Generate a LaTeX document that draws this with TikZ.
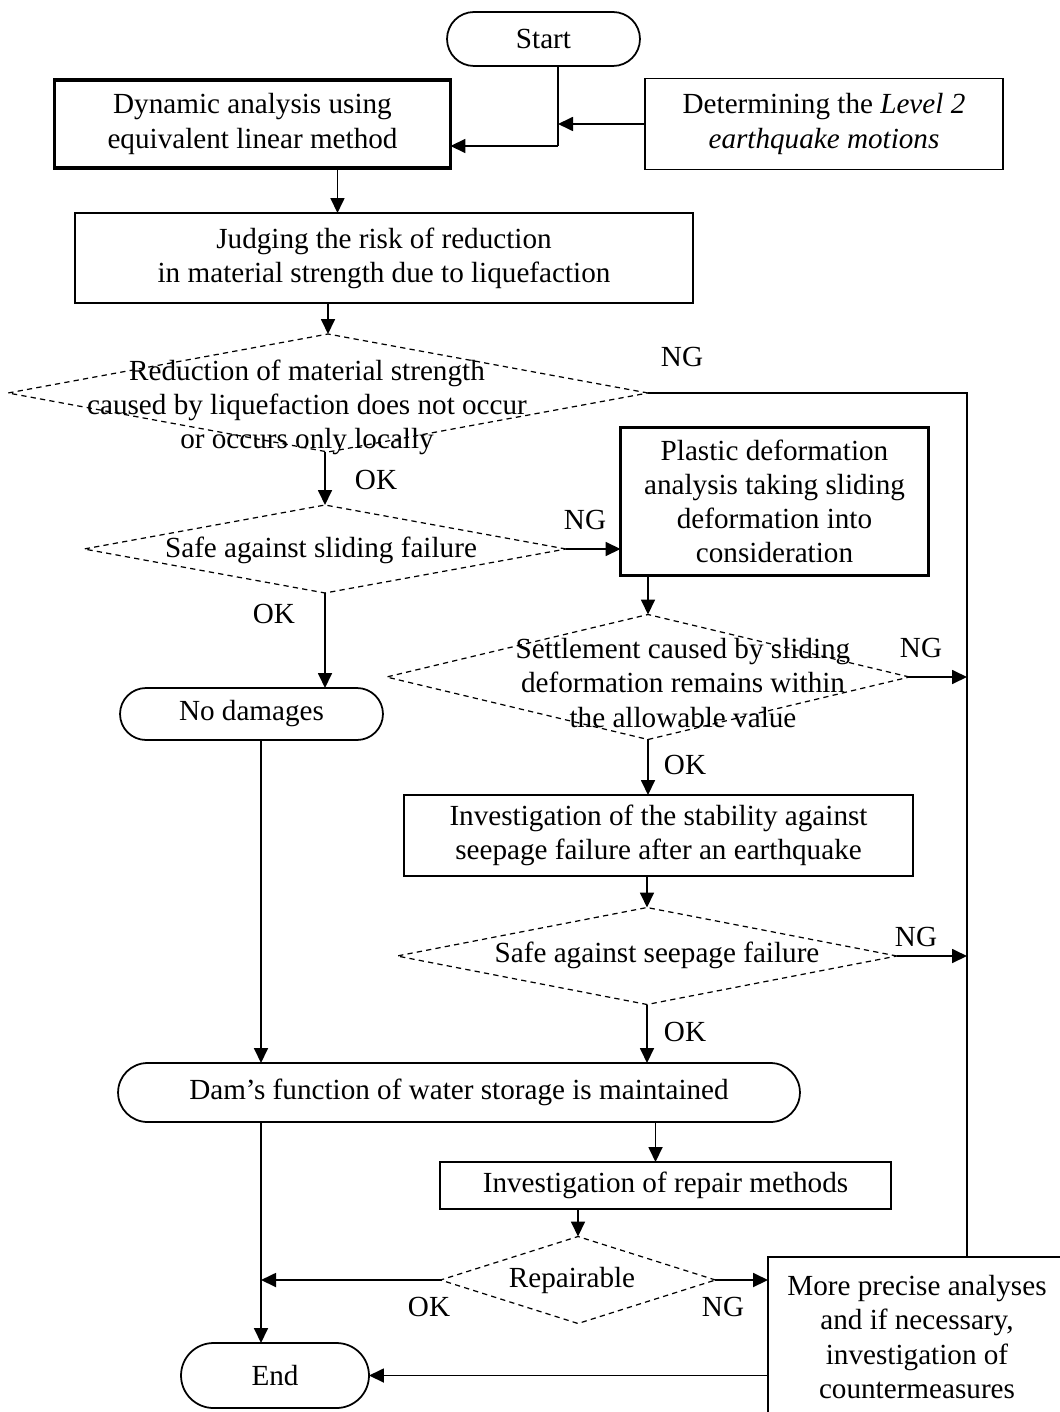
\documentclass[tikz,border=0pt]{standalone}
\usepackage{fontspec}
\setmainfont{Liberation Serif}
\usetikzlibrary{shapes.geometric,shapes.misc,arrows.meta}
\tikzset{
  box/.style={draw, line width=1pt, align=center, inner sep=0pt, outer sep=0pt},
  heavybox/.style={box, line width=2.2pt},
  pill/.style={box, rounded rectangle},
  decision/.style={diamond, draw, line width=0.7pt, dash pattern=on 3pt off 2.4pt, inner sep=0pt, outer sep=0pt},
  arr/.style={line width=1pt, -{Triangle[length=0.3cm,width=0.28cm]}},
  wire/.style={line width=1pt},
  tag/.style={inner sep=0pt, align=center}
}
\begin{document}
\begin{tikzpicture}[x=0.02cm, y=-0.02cm, font=\fontsize{16.6}{19.4}\selectfont]
\useasboundingbox (0,0) rectangle (1060,1412);
\clip (0,0) rectangle (1060,1412);
\node[pill, minimum width=3.86cm, minimum height=1.08cm] (start) at (543.5,39){Start};
\node[heavybox, minimum width=7.92cm, minimum height=1.76cm] (dyn) at (252.5,124){Dynamic analysis using\\equivalent linear method};
\node[box, minimum width=7.16cm, minimum height=1.82cm] (eqk) at (824,124){Determining the \textit{Level 2}\\\textit{earthquake motions}};
\node[box, minimum width=12.36cm, minimum height=1.8cm] (judge) at (384,258){Judging the risk of reduction\\in material strength due to liquefaction};
\node[decision, minimum width=12.8cm, minimum height=2.36cm] (dq1) at (328,393){};
\node[tag] (dq1txt) at (307,407){Reduction of material strength\\caused by liquefaction does not occur\\or occurs only locally};
\node[decision, minimum width=9.64cm, minimum height=1.76cm] (dq2) at (325,549){};
\node[tag] (dq2txt) at (321,550){Safe against sliding failure};
\node[heavybox, minimum width=6.16cm, minimum height=2.96cm] (plastic) at (774.5,501.5){Plastic deformation\\analysis taking sliding\\deformation into\\consideration};
\node[pill, minimum width=5.26cm, minimum height=1.04cm] (nodmg) at (251.5,714){No damages};
\node[decision, minimum width=10.46cm, minimum height=2.5cm] (dq3) at (648,677){};
\node[tag] (dq3txt) at (683,683){Settlement caused by sliding\\deformation remains within\\the allowable value};
\node[box, minimum width=10.18cm, minimum height=1.62cm] (seep) at (658.5,835.5){Investigation of the stability against\\seepage failure after an earthquake};
\node[decision, minimum width=10cm, minimum height=1.94cm] (dq4) at (647,956){};
\node[tag] (dq4txt) at (657,955){Safe against seepage failure};
\node[pill, minimum width=13.64cm, minimum height=1.18cm] (dam) at (459,1092.5){Dam’s function of water storage is maintained};
\node[box, minimum width=9.02cm, minimum height=0.94cm] (repair) at (665.5,1185.5){Investigation of repair methods};
\node[decision, minimum width=5.5cm, minimum height=1.74cm] (dq5) at (578,1280){};
\node[tag] (dq5txt) at (572,1280){Repairable};
\node[box, minimum width=5.96cm, minimum height=3.2cm] (more) at (917,1337){More precise analyses\\and if necessary,\\investigation of\\countermeasures};
\node[pill, minimum width=3.76cm, minimum height=1.3cm] (end) at (275,1375.5){End};
\coordinate (joinA) at (558,124);
\coordinate (joinB) at (558,146);
\coordinate (rail) at (967,393);
\coordinate (lrail) at (261,1280);
\draw[wire](start.south -| joinA) -- (joinB);
\draw[arr](joinB) -- (dyn.east |- joinB);
\draw[arr](eqk.west) -- (joinA);
\draw[arr]([xshift=1.7cm]dyn.south) -- ([xshift=1.7cm]dyn.south |- judge.north);
\draw[arr](dq1.north |- judge.south) -- (dq1.north);
\draw[wire](dq1.east) -- (rail) -- (rail |- more.north);
\node[tag] (ng1) at (682,357){NG};
\draw[arr](dq2.north |- dq1.south) -- (dq2.north);
\node[tag] (ok1) at (376,480){OK};
\draw[arr](dq2.east) -- (dq2.east -| plastic.west);
\node[tag] (ng2) at (585,520){NG};
\draw[arr](dq2.south) -- (dq2.south |- nodmg.north);
\node[tag] (ok2) at (274,614){OK};
\draw[arr](dq3.north |- plastic.south) -- (dq3.north);
\draw[arr](dq3.east) -- (rail |- dq3.east);
\node[tag] (ng3) at (921,648){NG};
\draw[arr](dq3.south) -- (dq3.south |- seep.north);
\node[tag] (ok3) at (685,765){OK};
\draw[arr](dq4.north |- seep.south) -- (dq4.north);
\draw[arr](dq4.east) -- (rail |- dq4.east);
\node[tag] (ng4) at (916,937){NG};
\draw[arr](dq4.south) -- (dq4.south |- dam.north);
\node[tag] (ok4) at (685,1032){OK};
\draw[arr](nodmg.south -| lrail) -- (dam.north -| lrail);
\draw[arr]([xshift=-0.2cm]repair.north |- dam.south) -- ([xshift=-0.2cm]repair.north);
\draw[arr](dq5.north |- repair.south) -- (dq5.north);
\draw[arr](dam.south -| lrail) -- (end.north -| lrail);
\draw[arr](dq5.west) -- (lrail);
\node[tag] (ok5) at (429,1307){OK};
\draw[arr](dq5.east) -- (dq5.east -| more.west);
\node[tag] (ng5) at (723,1307){NG};
\draw[arr](more.west |- end.east) -- (end.east);
\end{tikzpicture}
\end{document}
